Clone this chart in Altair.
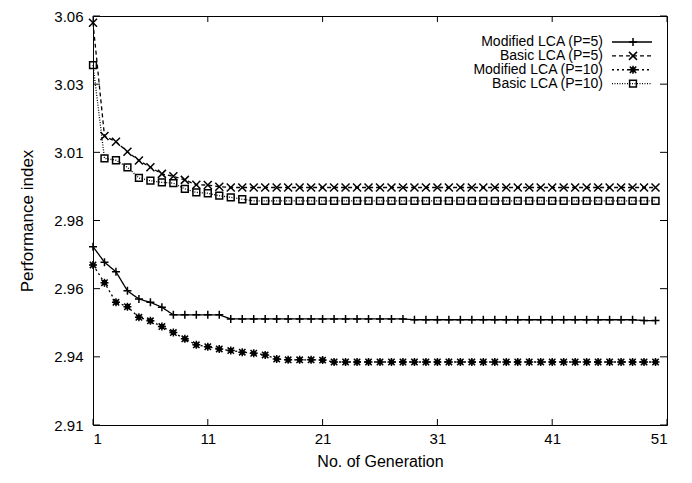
import altair as alt
import pandas as pd

FONT = "Liberation Sans"

generations = [1, 2, 3, 4, 5, 6, 7, 8, 9, 10,
               11, 12, 13, 14, 15, 16, 17, 18, 19, 20,
               21, 22, 23, 24, 25, 26, 27, 28, 29, 30,
               31, 32, 33, 34, 35, 36, 37, 38, 39, 40,
               41, 42, 43, 44, 45, 46, 47, 48, 49, 50]

series_names = ["Modified LCA (P=5)", "Basic LCA (P=5)",
                "Modified LCA (P=10)", "Basic LCA (P=10)"]
series_order = [0, 1, 2, 3]

modified_p5 = [2.9754, 2.9697, 2.9662, 2.9592, 2.9562, 2.9550, 2.9532, 2.9504, 2.9504, 2.9504,
               2.9504, 2.9504, 2.9489, 2.9489, 2.9489, 2.9489, 2.9489, 2.9489, 2.9489, 2.9489,
               2.9489, 2.9489, 2.9489, 2.9489, 2.9489, 2.9489, 2.9489, 2.9489, 2.9486, 2.9486,
               2.9486, 2.9486, 2.9486, 2.9486, 2.9486, 2.9486, 2.9486, 2.9486, 2.9486, 2.9486,
               2.9486, 2.9486, 2.9486, 2.9486, 2.9486, 2.9486, 2.9486, 2.9486, 2.9483, 2.9483]

basic_p5 = [3.0575, 3.0160, 3.0139, 3.0102, 3.0070, 3.0045, 3.0021, 3.0012, 2.9999, 2.9981,
            2.9980, 2.9974, 2.9971, 2.9971, 2.9971, 2.9971, 2.9971, 2.9971, 2.9971, 2.9971,
            2.9971, 2.9971, 2.9971, 2.9971, 2.9971, 2.9971, 2.9971, 2.9971, 2.9971, 2.9971,
            2.9971, 2.9971, 2.9971, 2.9971, 2.9971, 2.9971, 2.9971, 2.9971, 2.9971, 2.9971,
            2.9971, 2.9971, 2.9971, 2.9971, 2.9971, 2.9971, 2.9971, 2.9971, 2.9971, 2.9971]

modified_p10 = [2.9687, 2.9622, 2.9550, 2.9534, 2.9495, 2.9482, 2.9461, 2.9439, 2.9416, 2.9394,
                2.9387, 2.9379, 2.9373, 2.9367, 2.9363, 2.9357, 2.9342, 2.9339, 2.9339, 2.9339,
                2.9338, 2.9331, 2.9331, 2.9331, 2.9331, 2.9331, 2.9331, 2.9331, 2.9331, 2.9331,
                2.9331, 2.9331, 2.9331, 2.9331, 2.9331, 2.9331, 2.9331, 2.9331, 2.9331, 2.9331,
                2.9331, 2.9331, 2.9331, 2.9331, 2.9331, 2.9331, 2.9331, 2.9331, 2.9331, 2.9331]

basic_p10 = [3.0420, 3.0078, 3.0071, 3.0045, 3.0006, 2.9996, 2.9990, 2.9987, 2.9966, 2.9953,
             2.9950, 2.9941, 2.9935, 2.9928, 2.9922, 2.9922, 2.9922, 2.9922, 2.9922, 2.9922,
             2.9922, 2.9922, 2.9922, 2.9922, 2.9922, 2.9922, 2.9922, 2.9922, 2.9922, 2.9922,
             2.9922, 2.9922, 2.9922, 2.9922, 2.9922, 2.9922, 2.9922, 2.9922, 2.9922, 2.9922,
             2.9922, 2.9922, 2.9922, 2.9922, 2.9922, 2.9922, 2.9922, 2.9922, 2.9922, 2.9922]

x_ticks = [1, 11, 21, 31, 41, 51]
y_ticks = [2.91, 2.935, 2.96, 2.985, 3.01, 3.035, 3.06]
y_tick_labels = ["2.91", "2.94", "2.96", "2.98", "3.01", "3.03", "3.06"]

W, H = 574, 409

rows = []
for name, vals in zip(series_names, [modified_p5, basic_p5, modified_p10, basic_p10]):
    for g, v in zip(generations, vals):
        rows.append({"generation": g, "value": v, "series": name})
df = pd.DataFrame(rows)

x_scale = alt.Scale(domain=[1, 51], nice=False, zero=False)
y_scale = alt.Scale(domain=[2.91, 3.06], nice=False, zero=False)

plus = "M-1,0L1,0M0,-1L0,1"
cross = "M-1,-1L1,1M-1,1L1,-1"
star = "M-1,0L1,0M0,-1L0,1M-0.8,-0.8L0.8,0.8M-0.8,0.8L0.8,-0.8M-0.45,-0.45L0.45,-0.45L0.45,0.45L-0.45,0.45Z"
square = "M-0.85,-0.85L0.85,-0.85L0.85,0.85L-0.85,0.85Z"

dash_scale = alt.Scale(domain=series_names, range=[[1, 0], [4, 3], [2, 3], [1, 1.5]])
shape_scale = alt.Scale(domain=series_names, range=[plus, cross, star, square])

label_js = "[" + ",".join("'" + s + "'" for s in y_tick_labels) + "]"
y_axis = alt.Axis(values=y_ticks, title="Performance index", titleFontSize=17,
                  labelExpr=label_js + "[round((datum.value - 2.91) / 0.025)]",
                  labelPadding=10, titlePadding=17)
x_axis = alt.Axis(values=x_ticks, title="No. of Generation", titleFontSize=16,
                  format="d", labelPadding=6, titlePadding=7)

base = alt.Chart(df).encode(
    x=alt.X("generation:Q", scale=x_scale, axis=x_axis),
    y=alt.Y("value:Q", scale=y_scale, axis=y_axis),
)

lines = base.mark_line(color="black", strokeWidth=1.3).encode(
    strokeDash=alt.StrokeDash("series:N", scale=dash_scale, legend=None),
    detail="series:N",
)
points = base.mark_point(color="black", filled=False, strokeWidth=1.5, size=64, opacity=1).encode(
    shape=alt.Shape("series:N", scale=shape_scale, legend=None),
)

ytick_df = pd.DataFrame({"value": y_ticks})
xtick_df = pd.DataFrame({"generation": x_ticks})

ytick_left = alt.Chart(ytick_df).mark_rule(color="black", strokeWidth=1).encode(
    y=alt.Y("value:Q", scale=y_scale, axis=y_axis), x=alt.value(0), x2=alt.value(7))
ytick_right = alt.Chart(ytick_df).mark_rule(color="black", strokeWidth=1).encode(
    y=alt.Y("value:Q", scale=y_scale, axis=y_axis), x=alt.value(W - 7), x2=alt.value(W))
xtick_bottom = alt.Chart(xtick_df).mark_rule(color="black", strokeWidth=1).encode(
    x=alt.X("generation:Q", scale=x_scale, axis=x_axis), y=alt.value(H), y2=alt.value(H - 6))
xtick_top = alt.Chart(xtick_df).mark_rule(color="black", strokeWidth=1).encode(
    x=alt.X("generation:Q", scale=x_scale, axis=x_axis), y=alt.value(0), y2=alt.value(6))

main = alt.layer(lines, points, ytick_left, ytick_right, xtick_bottom, xtick_top)

leg_df = pd.DataFrame({"series": series_names, "order": series_order})
leg_y = alt.Y("order:Q", scale=alt.Scale(domain=[0, 3], range=[26, 67.6], nice=False, zero=False),
              axis=None)

leg_text = alt.Chart(leg_df).mark_text(align="right", baseline="middle", font=FONT,
                                       fontSize=14, color="black").encode(
    y=leg_y, x=alt.value(510), text="series:N")
leg_rule = alt.Chart(leg_df).mark_rule(color="black", strokeWidth=1.3).encode(
    y=leg_y, x=alt.value(519), x2=alt.value(559),
    strokeDash=alt.StrokeDash("series:N", scale=dash_scale, legend=None))
leg_pts = alt.Chart(leg_df).mark_point(color="black", filled=False, strokeWidth=1.5,
                                       size=64, opacity=1).encode(
    y=leg_y, x=alt.value(540),
    shape=alt.Shape("series:N", scale=shape_scale, legend=None))

legend = alt.layer(leg_text, leg_rule, leg_pts)

chart = alt.layer(main, legend).resolve_scale(y="independent").properties(
    width=W, height=H,
    background="white",
    autosize=alt.AutoSizeParams(type="none"),
    padding={"left": 85, "top": 8, "right": 15, "bottom": 45},
).configure_view(
    stroke="black", strokeWidth=1
).configure_axis(
    grid=False, domain=False, ticks=False, tickSize=0,
    labelFont=FONT, labelFontSize=15, labelColor="black",
    titleFont=FONT, titleFontWeight="normal", titleColor="black",
)

chart.save("out.html", embed_options={"renderer": "svg", "actions": False})
